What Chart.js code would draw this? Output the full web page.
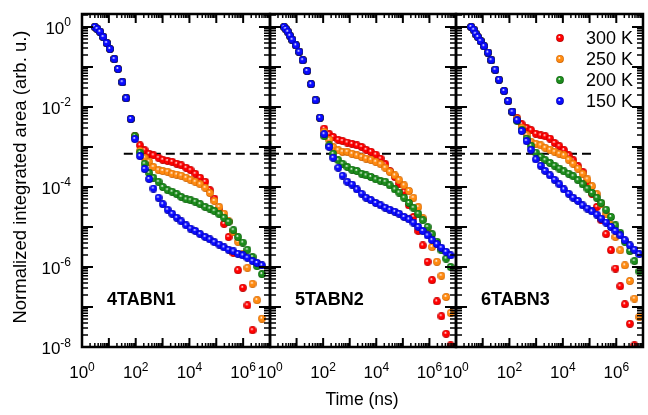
<!DOCTYPE html>
<html>
<head>
<meta charset="utf-8">
<script src="https://cdn.jsdelivr.net/npm/chart.js@4.4.1/dist/chart.umd.min.js"></script>
<style>
body { margin: 0; background: #fff; }
#wrap { position: relative; width: 648px; height: 415px; }
canvas { position: absolute; left: 0; top: 0; }
</style>
</head>
<body>
<div id="wrap">
<canvas id="p1" width="648" height="415"></canvas>
<canvas id="p2" width="648" height="415"></canvas>
<canvas id="p3" width="648" height="415"></canvas>
</div>
<script>
var temps = ['300 K', '250 K', '200 K', '150 K'];
var colors = ['#ff0000', '#ff8a10', '#1c8c1c', '#0a0aff'];
var darks = ['#a80000', '#c45c00', '#0a560a', '#00008c'];
var xTickExps = [0, 2, 4, 6];
var yTickExps = [0, -2, -4, -6, -8];
var cutLevel = 6.8e-4;

// 4TABN1
var time1 = [3.0, 3.7, 4.7, 6.2, 8.3, 11, 16, 22, 32, 44, 66, 93, 145, 214, 316, 457, 708, 1020, 1550, 2290,
  3390, 5010, 7590, 11000, 16600, 25100, 38900, 57500, 85100, 1.29e5, 1.95e5, 2.88e5, 4.37e5, 6.46e5, 9.77e5,
  1.45e6, 2.24e6, 3.31e6, 5.01e6];
var early1 = [1.0, 0.891, 0.759, 0.562, 0.398, 0.282, 0.158, 8.91e-2, 4.17e-2, 1.66e-2, 5.01e-3];
var p1_300 = early1.concat([1.86e-3, 1.10e-3, 8.32e-4, 6.76e-4, 6.17e-4, 5.37e-4, 4.79e-4, 4.47e-4, 4.27e-4, 3.80e-4,
  3.47e-4, 3.02e-4, 2.63e-4, 2.14e-4, 1.70e-4, 1.35e-4, 8.32e-5, 5.13e-5, 2.63e-5, 1.20e-5, 5.62e-6, 2.24e-6,
  8.32e-7, 3.02e-7, 1.10e-7, 2.63e-8, 8.5e-9, null]);
var p1_250 = early1.concat([1.78e-3, 7.94e-4, 5.37e-4, 4.27e-4, 3.16e-4, 2.63e-4, 2.51e-4, 2.40e-4, 2.14e-4, 2.04e-4,
  1.91e-4, 1.70e-4, 1.51e-4, 1.35e-4, 1.17e-4, 9.55e-5, 7.08e-5, 4.47e-5, 3.16e-5, 2.14e-5, 1.38e-5, 7.59e-6,
  4.27e-6, 2.09e-6, 9.55e-7, 3.80e-7, 1.48e-7, 5.13e-8]);
var p1_200 = early1.concat([1.86e-3, 7.24e-4, 3.80e-4, 2.24e-4, 1.70e-4, 1.35e-4, 1.00e-4, 8.32e-5, 7.59e-5, 6.61e-5,
  5.62e-5, 4.90e-5, 4.68e-5, 4.27e-5, 3.72e-5, 3.16e-5, 2.88e-5, 2.51e-5, 2.09e-5, 1.70e-5, 1.35e-5, 8.32e-6,
  5.62e-6, 4.07e-6, 2.69e-6, 1.78e-6, 1.05e-6, 6.61e-7]);
var p1_150 = early1.concat([1.58e-3, 5.89e-4, 2.82e-4, 1.58e-4, 9.12e-5, 5.37e-5, 3.72e-5, 2.69e-5, 2.14e-5, 1.70e-5,
  1.38e-5, 1.10e-5, 9.12e-6, 7.94e-6, 6.61e-6, 5.62e-6, 4.90e-6, 4.17e-6, 3.63e-6, 3.09e-6, 2.69e-6, 2.45e-6,
  2.14e-6, 1.95e-6, 1.70e-6, 1.41e-6, 1.26e-6, 1.10e-6]);

// 5TABN2
var time2 = [3.4, 3.9, 4.7, 5.6, 6.9, 9.5, 12.6, 17, 25, 35, 52, 76, 110, 170, 240, 372, 537, 813, 1230, 1860,
  2820, 4170, 6310, 9550, 14500, 21900, 32400, 50100, 72400, 1.12e5, 1.70e5, 2.51e5, 3.80e5, 5.62e5, 8.51e5,
  1.26e6, 1.91e6, 2.82e6, 4.27e6, 6.31e6];
var early2 = [1.0, 0.891, 0.759, 0.603, 0.479, 0.347, 0.240, 0.148, 7.94e-2, 3.72e-2, 1.48e-2, 5.37e-3];
var p2_300 = early2.concat([2.88e-3, 2.09e-3, 1.78e-3, 1.51e-3, 1.41e-3, 1.29e-3, 1.20e-3, 1.10e-3, 1.0e-3, 8.51e-4,
  7.59e-4, 6.46e-4, 5.13e-4, 3.72e-4, 2.51e-4, 1.78e-4, 1.20e-4, 7.59e-5, 3.47e-5, 1.78e-5, 7.94e-6, 3.47e-6,
  1.35e-6, 4.68e-7, 1.38e-7, 5.89e-8, 2.14e-8, 1.10e-8]);
var p2_250 = early2.concat([2.40e-3, 1.51e-3, 1.0e-3, 8.32e-4, 7.59e-4, 7.59e-4, 6.76e-4, 6.17e-4, 5.62e-4, 5.13e-4,
  4.79e-4, 4.27e-4, 3.72e-4, 3.02e-4, 2.40e-4, 1.95e-4, 1.48e-4, 1.10e-4, 7.94e-5, 5.37e-5, 3.16e-5, 1.66e-5,
  7.59e-6, 3.16e-6, 1.35e-6, 6.03e-7, 1.78e-7, 7.08e-8]);
var p2_200 = early2.concat([1.86e-3, 1.10e-3, 6.76e-4, 4.68e-4, 3.80e-4, 3.16e-4, 2.69e-4, 2.51e-4, 2.14e-4, 1.95e-4,
  1.78e-4, 1.55e-4, 1.41e-4, 1.35e-4, 1.10e-4, 8.71e-5, 7.24e-5, 5.37e-5, 3.98e-5, 3.02e-5, 2.14e-5, 1.48e-5,
  1.0e-5, 6.61e-6, 4.27e-6, 2.63e-6, 1.62e-6, 1.0e-6]);
var p2_150 = early2.concat([2.09e-3, 1.0e-3, 5.37e-4, 3.02e-4, 1.91e-4, 1.35e-4, 1.15e-4, 8.71e-5, 6.76e-5, 5.37e-5,
  4.68e-5, 3.98e-5, 3.47e-5, 3.02e-5, 2.69e-5, 2.40e-5, 2.14e-5, 1.78e-5, 1.55e-5, 1.29e-5, 1.0e-5, 7.94e-6,
  6.17e-6, 4.68e-6, 3.72e-6, 3.02e-6, 2.40e-6, 1.95e-6]);

// 6TABN3
var time3 = [3.7, 4.6, 5.4, 6.6, 8.3, 11.2, 15.8, 20.9, 29.5, 40.7, 63, 89, 129, 195, 288, 437, 646, 977, 1480, 2190,
  3310, 4900, 7410, 11000, 16600, 24500, 37200, 55000, 83200, 1.23e5, 1.86e5, 2.75e5, 4.17e5, 6.31e5, 9.33e5,
  1.41e6, 2.09e6, 3.24e6, 4.79e6, 7.24e6];
var early3 = [1.0, 0.851, 0.676, 0.562, 0.447, 0.331, 0.229, 0.148, 8.51e-2, 4.79e-2, 2.51e-2, 1.41e-2, 7.59e-3];
var p3_300 = early3.concat([5.25e-3, 3.72e-3, 3.02e-3, 2.63e-3, 2.14e-3, 1.95e-3, 1.86e-3, 1.62e-3, 1.26e-3, 1.05e-3,
  8.32e-4, 6.17e-4, 4.68e-4, 3.31e-4, 2.40e-4, 1.32e-4, 6.76e-5, 3.16e-5, 1.48e-5, 6.61e-6, 2.63e-6, 9.12e-7,
  3.31e-7, 1.17e-7, 3.80e-8, 1.10e-8, 8.5e-9]);
var p3_250 = early3.concat([5.01e-3, 3.02e-3, 2.0e-3, 1.35e-3, 1.20e-3, 1.10e-3, 9.55e-4, 8.51e-4, 7.59e-4, 6.76e-4,
  6.17e-4, 4.79e-4, 3.80e-4, 2.88e-4, 2.14e-4, 1.55e-4, 1.05e-4, 6.61e-5, 3.80e-5, 2.09e-5, 1.12e-5, 5.62e-6,
  2.63e-6, 1.10e-6, 4.47e-7, 1.62e-7, 5.62e-8]);
var p3_200 = early3.concat([4.47e-3, 2.63e-3, 1.62e-3, 1.07e-3, 7.24e-4, 5.62e-4, 4.68e-4, 3.98e-4, 3.39e-4, 2.88e-4,
  2.45e-4, 2.14e-4, 1.86e-4, 1.48e-4, 1.17e-4, 9.12e-5, 7.08e-5, 5.37e-5, 3.98e-5, 2.69e-5, 1.78e-5, 1.10e-5,
  7.08e-6, 4.27e-6, 2.51e-6, 1.41e-6, 7.76e-7]);
var p3_150 = early3.concat([4.68e-3, 2.51e-3, 1.41e-3, 8.51e-4, 4.90e-4, 3.39e-4, 2.51e-4, 1.95e-4, 1.51e-4, 1.17e-4,
  8.71e-5, 6.76e-5, 5.37e-5, 4.47e-5, 3.47e-5, 2.88e-5, 2.45e-5, 2.04e-5, 1.62e-5, 1.29e-5, 1.0e-5, 7.94e-6,
  6.17e-6, 4.68e-6, 3.47e-6, 2.69e-6, 2.09e-6]);

var FONT = '"Liberation Sans", Arial, sans-serif';

// shaded ball used as point style
function makeBall(color, dark, size) {
  var c = document.createElement('canvas');
  c.width = size; c.height = size;
  var g = c.getContext('2d');
  var r = size / 2;
  var grd = g.createRadialGradient(r - 0.8, r - 1.2, 0.3, r, r, r);
  grd.addColorStop(0, '#ffffff');
  grd.addColorStop(0.3, color);
  grd.addColorStop(0.72, color);
  grd.addColorStop(1, dark);
  g.fillStyle = grd;
  g.beginPath();
  g.arc(r, r, r - 0.1, 0, Math.PI * 2);
  g.fill();
  return c;
}
var balls = colors.map(function (c, i) { return makeBall(c, darks[i], 8); });

function drawPow(ctx, exp, x, y, align) {
  var sup = String(exp);
  ctx.font = '17px ' + FONT;
  var wb = ctx.measureText('10').width;
  ctx.font = '12px ' + FONT;
  var we = ctx.measureText(sup).width;
  var x0 = align === 'right' ? x - wb - we : x - (wb + we) / 2;
  ctx.textAlign = 'left';
  ctx.textBaseline = 'alphabetic';
  ctx.font = '17px ' + FONT;
  ctx.fillText('10', x0, y);
  ctx.font = '12px ' + FONT;
  ctx.fillText(sup, x0 + wb, y - 7.5);
}

function framePlugin(name, opt) {
  return {
    id: 'frame',
    afterDraw: function (chart) {
      var ctx = chart.ctx, ca = chart.chartArea;
      var xs = chart.scales.x, ys = chart.scales.y;
      ctx.save();
      ctx.strokeStyle = '#000';
      ctx.fillStyle = '#000';
      var e, m, v, p, len;
      // x ticks (bottom and top, inside)
      for (e = 0; e <= 7; e++) {
        for (m = 1; m < 10; m++) {
          v = m * Math.pow(10, e);
          if (v > xs.max * 1.0001) break;
          p = xs.getPixelForValue(v);
          len = m === 1 ? 9 : 4;
          ctx.lineWidth = m === 1 ? 2 : 1.5;
          ctx.beginPath();
          ctx.moveTo(p, ca.bottom); ctx.lineTo(p, ca.bottom - len);
          ctx.moveTo(p, ca.top); ctx.lineTo(p, ca.top + len);
          ctx.stroke();
        }
      }
      // y ticks (left and right, inside)
      for (e = -8; e <= 0; e++) {
        for (m = 1; m < 10; m++) {
          v = m * Math.pow(10, e);
          if (v > ys.max) break;
          p = ys.getPixelForValue(v);
          len = m === 1 ? 11 : 6;
          ctx.lineWidth = m === 1 ? 2 : 1.5;
          ctx.beginPath();
          ctx.moveTo(ca.left, p); ctx.lineTo(ca.left + len, p);
          ctx.moveTo(ca.right, p); ctx.lineTo(ca.right - len, p);
          ctx.stroke();
        }
      }
      ctx.lineWidth = 2.5;
      ctx.strokeRect(ca.left, ca.top, ca.right - ca.left, ca.bottom - ca.top);

      // tick labels
      xTickExps.forEach(function (k) {
        drawPow(ctx, k, xs.getPixelForValue(Math.pow(10, k)), 378, 'center');
      });
      if (opt.yLabels) {
        yTickExps.forEach(function (k) {
          drawPow(ctx, k, 71, ys.getPixelForValue(Math.pow(10, k)) + 7, 'right');
        });
        ctx.save();
        ctx.translate(21, 177);
        ctx.rotate(-Math.PI / 2);
        ctx.font = '18.5px ' + FONT;
        ctx.textAlign = 'center';
        ctx.textBaseline = 'middle';
        ctx.fillText('Normalized integrated area (arb. u.)', 0, 0);
        ctx.restore();
      }
      if (opt.xTitle) {
        ctx.font = '17.5px ' + FONT;
        ctx.textAlign = 'center';
        ctx.textBaseline = 'middle';
        ctx.fillText('Time (ns)', 362, 400);
      }
      // sample name
      ctx.font = 'bold 18px ' + FONT;
      ctx.textAlign = 'left';
      ctx.textBaseline = 'alphabetic';
      ctx.fillText(name, ca.left + 25, 305);

      if (opt.legend) {
        ctx.font = '18px ' + FONT;
        ctx.textBaseline = 'middle';
        temps.forEach(function (t, i) {
          var yy = 38 + i * 21;
          ctx.drawImage(balls[i], 556, yy - 4);
          ctx.fillText(t, 586, yy + 1);
        });
      }
      ctx.restore();
    }
  };
}

function makePanel(id, name, time, series, left, right, dash, opt) {
  var datasets = series.map(function (vals, i) {
    var pts = [];
    vals.forEach(function (v, k) { if (v !== null) pts.push({ x: time[k], y: v }); });
    return {
      type: 'scatter',
      label: temps[i],
      data: pts,
      pointStyle: balls[i],
      pointRadius: 4,
      pointHoverRadius: 4,
      order: 3 - i,
      clip: 0
    };
  });
  datasets.push({
    type: 'line',
    label: 'cut',
    data: [{ x: dash[0], y: cutLevel }, { x: dash[1], y: cutLevel }],
    borderColor: '#000',
    borderWidth: 2,
    borderDash: [9, 5],
    pointRadius: 0,
    order: 10,
    clip: 0
  });
  return new Chart(document.getElementById(id), {
    type: 'scatter',
    data: { datasets: datasets },
    options: {
      responsive: false,
      animation: false,
      events: [],
      devicePixelRatio: 1,
      layout: { padding: { left: left, right: 648 - right, top: 14, bottom: 68 } },
      scales: {
        x: { type: 'logarithmic', min: 1, max: 1e7, display: false },
        y: { type: 'logarithmic', min: 1e-8, max: 2.11, display: false }
      },
      plugins: { legend: { display: false }, tooltip: { enabled: false } }
    },
    plugins: [framePlugin(name, opt)]
  });
}

makePanel('p1', '4TABN1', time1, [p1_300, p1_250, p1_200, p1_150], 82, 270, [36, 1e7], { yLabels: true });
makePanel('p2', '5TABN2', time2, [p2_300, p2_250, p2_200, p2_150], 270, 456, [1, 1e7], { xTitle: true });
makePanel('p3', '6TABN3', time3, [p3_300, p3_250, p3_200, p3_150], 456, 643, [1, 1.6e5], { legend: true });
</script>
</body>
</html>
